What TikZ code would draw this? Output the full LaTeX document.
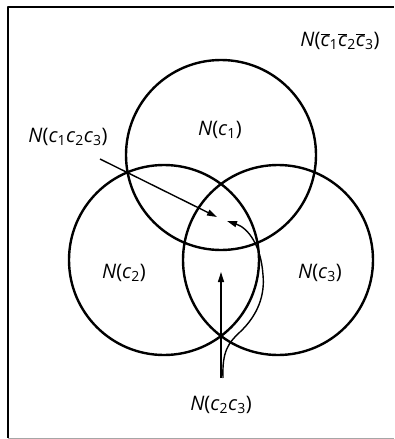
\documentclass[tikz,border=0pt]{standalone}
\usepackage{fontspec}
\newfontfamily\labfont{Open Sans}
\usetikzlibrary{arrows.meta}
\newcommand{\cc}[1]{\textit{c}\textsubscript{#1}}
\newcommand{\cb}[1]{$\overline{\mbox{\textit{c}}}$\textsubscript{#1}}
\tikzset{venn/.style={
  x=1pt,y=-1pt,
  >={Triangle[length=10pt,width=6pt]},line join=round,
  every node/.style={font=\labfont\fontsize{20}{24}\selectfont}
}}

\begin{document}
\begin{tikzpicture}[venn]
  \useasboundingbox (0,0) rectangle (394,439);
  \coordinate (O1) at (221,155);
  \coordinate (O2) at (164,260);
  \coordinate (O3) at (278,260);

  \draw[line width=1.6pt] (8,438)--(8,7)--(394,7);
  \draw[gray!70,line width=1pt] (8,438)--(394,438);

  \draw[line width=2.4pt] (O1) circle (95);
  \draw[line width=2.4pt] (O2) circle (95);
  \draw[line width=2.4pt] (O3) circle (95);

  \node (n1) at (220,130) {\textit{N}(\cc1)};
  \node (n2) at (124,273) {\textit{N}(\cc2)};
  \node (n3) at (320,273) {\textit{N}(\cc3)};
  \node (n123) at (68,137) {\textit{N}(\cc1\cc2\cc3)};
  \node (nbar) at (340,41) {\textit{N}(\cb1\cb2\cb3)};
  \node (n23) at (221,405) {\textit{N}(\cc2\cc3)};

  \coordinate (s1) at (100,159);
  \coordinate (t1) at (217,217);
  \coordinate (s2) at (223,378);
  \coordinate (t2) at (227,221);
  \coordinate (s3) at (221,378);
  \coordinate (t3) at (221,272);

  \draw[->,line width=1.4pt] (s1)--(t1);
  \draw[->,line width=1.4pt] (s3)--(t3);
  \draw[->,line width=1.4pt] (s2) .. controls (222,352) and (228,343) .. (240,332)
    .. controls (258,315) and (265,295) .. (263,275)
    .. controls (261,245) and (248,228) .. (t2);
\end{tikzpicture}
\end{document}
